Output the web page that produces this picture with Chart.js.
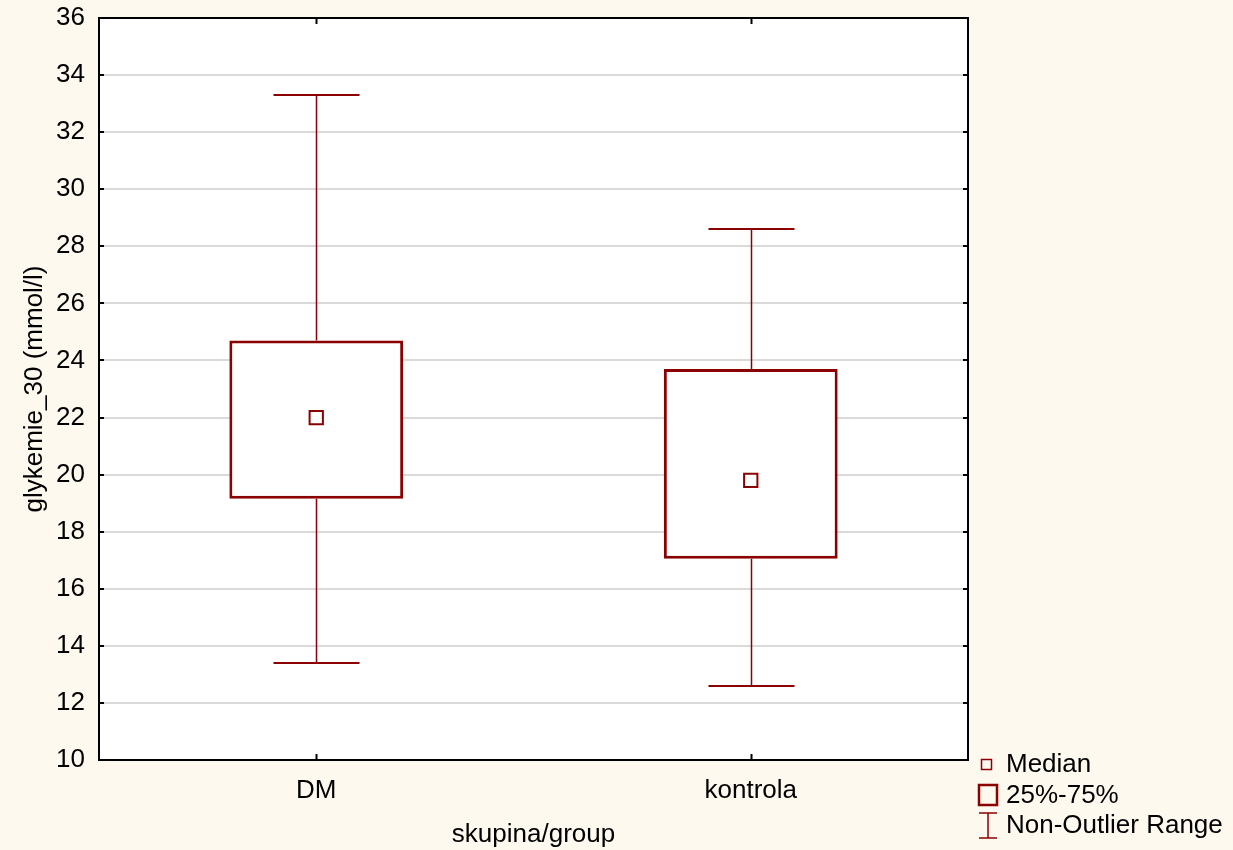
<!DOCTYPE html>
<html>
<head>
<meta charset="utf-8">
<script src="https://cdn.jsdelivr.net/npm/chart.js@4"></script>
<style>
  html, body { margin: 0; padding: 0; background: #fdf9ef; }
  #wrap { width: 1233px; height: 850px; }
</style>
</head>
<body>
<div id="wrap"><canvas id="box"></canvas></div>
<script>
// values
const groups = ['DM', 'kontrola']
const mins = [13.4, 12.6]
const q1 = [19.15, 17.05]
const medians = [22.0, 19.8]
const q3 = [24.7, 23.7]
const maxs = [33.3, 28.6]
const yTicks = [10, 12, 14, 16, 18, 20, 22, 24, 26, 28, 30, 32, 34, 36]

const dark = '#8b0000'
const font = "'Liberation Sans', Arial, sans-serif"

// white plot area
const plotBg = {
  id: 'plotBg',
  beforeDraw(chart) {
    const a = chart.chartArea, ctx = chart.ctx
    ctx.save()
    ctx.fillStyle = '#fff'
    ctx.fillRect(a.left, a.top, a.right - a.left, a.bottom - a.top)
    ctx.restore()
  }
}

// whiskers + caps, drawn under the boxes
const whiskers = {
  id: 'whiskers',
  beforeDatasetsDraw(chart) {
    const x = chart.scales.x, y = chart.scales.y, ctx = chart.ctx
    ctx.save()
    ctx.strokeStyle = dark
    groups.forEach((g, i) => {
      const cx = Math.round(x.getPixelForValue(i)) + 0.5
      ctx.lineWidth = 1.5
      ctx.beginPath()
      ctx.moveTo(cx, y.getPixelForValue(maxs[i]))
      ctx.lineTo(cx, y.getPixelForValue(q3[i]))
      ctx.moveTo(cx, y.getPixelForValue(q1[i]))
      ctx.lineTo(cx, y.getPixelForValue(mins[i]))
      ctx.stroke()
      ctx.lineWidth = 2
      ctx.beginPath()
      for (const v of [maxs[i], mins[i]]) {
        const py = Math.round(y.getPixelForValue(v))
        ctx.moveTo(cx - 43, py)
        ctx.lineTo(cx + 43, py)
      }
      ctx.stroke()
    })
    ctx.restore()
  }
}

// frame, inward ticks and the legend
const frame = {
  id: 'frame',
  afterDraw(chart) {
    const a = chart.chartArea, x = chart.scales.x, y = chart.scales.y, ctx = chart.ctx
    ctx.save()
    ctx.strokeStyle = '#000'
    ctx.lineWidth = 2
    ctx.strokeRect(a.left, a.top, a.right - a.left, a.bottom - a.top)
    ctx.beginPath()
    yTicks.forEach(v => {
      const py = Math.round(y.getPixelForValue(v))
      ctx.moveTo(a.left, py); ctx.lineTo(a.left + 5, py)
      ctx.moveTo(a.right, py); ctx.lineTo(a.right - 5, py)
    })
    groups.forEach((g, i) => {
      const px = Math.round(x.getPixelForValue(i)) + 0.5
      ctx.moveTo(px, a.bottom); ctx.lineTo(px, a.bottom - 6)
      ctx.moveTo(px, a.top); ctx.lineTo(px, a.top + 6)
    })
    ctx.stroke()

    // legend
    ctx.strokeStyle = dark
    ctx.lineWidth = 1.5
    ctx.strokeRect(981.5, 759.5, 10, 10)
    ctx.lineWidth = 2.5
    ctx.strokeRect(979, 785, 18, 20)
    ctx.lineWidth = 1.5
    ctx.beginPath()
    ctx.moveTo(979, 813); ctx.lineTo(997, 813)
    ctx.moveTo(988, 813); ctx.lineTo(988, 838)
    ctx.moveTo(979, 838); ctx.lineTo(997, 838)
    ctx.stroke()
    ctx.fillStyle = '#000'
    ctx.font = '26px ' + font
    ctx.textBaseline = 'middle'
    ctx.fillText('Median', 1006, 765)
    ctx.fillText('25%-75%', 1006, 796)
    ctx.fillText('Non-Outlier Range', 1006, 826)
    ctx.restore()
  }
}

const boxConfig = {
  data: {
    labels: groups,
    datasets: [
      {
        type: 'bar',
        label: '25%-75%',
        data: groups.map((g, i) => [q1[i], q3[i]]),
        backgroundColor: '#fff',
        borderColor: dark,
        borderWidth: 3,
        borderSkipped: false,
        categoryPercentage: 1,
        barPercentage: 0.4,
        order: 2,
      },
      {
        type: 'line',
        label: 'Median',
        data: medians,
        showLine: false,
        pointStyle: 'rect',
        pointRadius: 9.4,
        pointBorderWidth: 2,
        pointBorderColor: dark,
        pointBackgroundColor: '#fff',
        order: 1,
      },
    ],
  },
  options: {
    responsive: true,
    maintainAspectRatio: false,
    animation: false,
    layout: { padding: { top: 18, right: 265, left: 0, bottom: 0 } },
    plugins: { legend: { display: false }, tooltip: { enabled: false } },
    scales: {
      x: {
        grid: { display: false, drawTicks: false },
        border: { display: false },
        ticks: { color: '#000', font: { family: font, size: 26 }, padding: 15 },
        title: {
          display: true, text: 'skupina/group', color: '#000',
          font: { family: font, size: 26, lineHeight: 1.2 }, padding: { top: 7, bottom: 0 },
        },
        afterFit: s => { s.height = 90 },
      },
      y: {
        min: 10,
        max: 36,
        afterBuildTicks: s => { s.ticks = yTicks.map(v => ({ value: v })) },
        grid: {
          color: ctx => (ctx.tick && (ctx.tick.value === 10 || ctx.tick.value === 36)) ? 'rgba(0,0,0,0)' : '#dadada',
          lineWidth: 2,
          drawTicks: false,
        },
        border: { display: false },
        ticks: { color: '#000', font: { family: font, size: 26 }, padding: 14 },
        title: {
          display: true, text: 'glykemie_30 (mmol/l)', color: '#000',
          font: { family: font, size: 26, lineHeight: 1.2 }, padding: { top: 19, bottom: 0 },
        },
        afterFit: s => { s.width = 99; s.paddingTop = 0; s.paddingBottom = 0 },
      },
    },
  },
  plugins: [plotBg, whiskers, frame],
}

window.myBox = new Chart(document.getElementById('box'), boxConfig)
</script>
</body>
</html>
